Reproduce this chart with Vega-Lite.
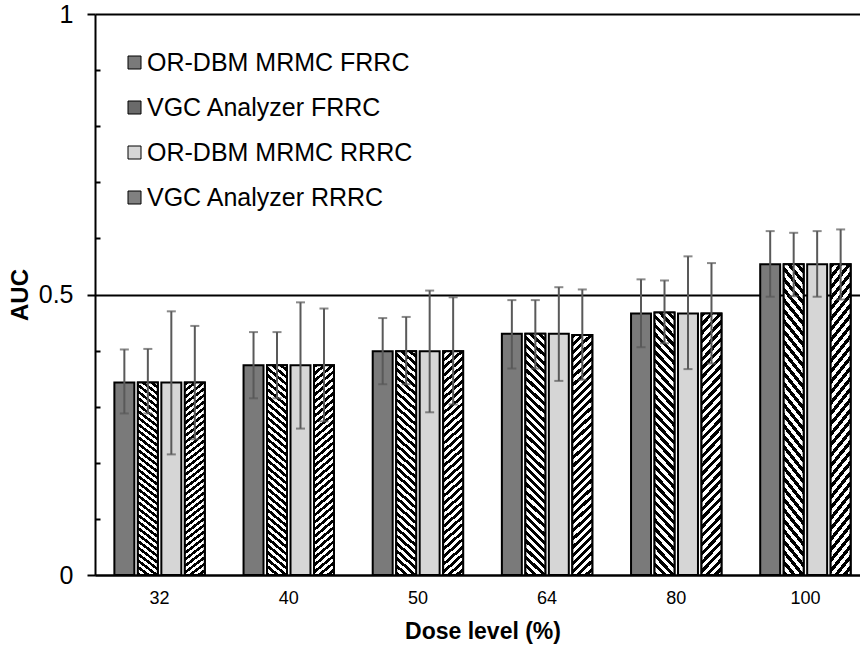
{
  "$schema": "https://vega.github.io/schema/vega-lite/v6.json",
  "width": 765,
  "height": 561,
  "autosize": {"type": "none"},
  "padding": {"left": 95, "top": 14, "right": 0, "bottom": 72},
  "background": "white",
  "config": {"view": {"stroke": null}, "font": "Liberation Sans"},
  "data": {
    "values": [
      {"dose": 32, "method": "OR-DBM MRMC FRRC", "auc": 0.343, "lo": 0.288, "hi": 0.402},
      {"dose": 32, "method": "VGC Analyzer FRRC", "auc": 0.343, "lo": 0.288, "hi": 0.403},
      {"dose": 32, "method": "OR-DBM MRMC RRRC", "auc": 0.343, "lo": 0.215, "hi": 0.470},
      {"dose": 32, "method": "VGC Analyzer RRRC", "auc": 0.343, "lo": 0.242, "hi": 0.444},
      {"dose": 40, "method": "OR-DBM MRMC FRRC", "auc": 0.374, "lo": 0.315, "hi": 0.433},
      {"dose": 40, "method": "VGC Analyzer FRRC", "auc": 0.374, "lo": 0.315, "hi": 0.433},
      {"dose": 40, "method": "OR-DBM MRMC RRRC", "auc": 0.374, "lo": 0.261, "hi": 0.486},
      {"dose": 40, "method": "VGC Analyzer RRRC", "auc": 0.374, "lo": 0.274, "hi": 0.475},
      {"dose": 50, "method": "OR-DBM MRMC FRRC", "auc": 0.399, "lo": 0.340, "hi": 0.458},
      {"dose": 50, "method": "VGC Analyzer FRRC", "auc": 0.399, "lo": 0.340, "hi": 0.460},
      {"dose": 50, "method": "OR-DBM MRMC RRRC", "auc": 0.399, "lo": 0.290, "hi": 0.507},
      {"dose": 50, "method": "VGC Analyzer RRRC", "auc": 0.399, "lo": 0.304, "hi": 0.495},
      {"dose": 64, "method": "OR-DBM MRMC FRRC", "auc": 0.430, "lo": 0.368, "hi": 0.490},
      {"dose": 64, "method": "VGC Analyzer FRRC", "auc": 0.430, "lo": 0.368, "hi": 0.490},
      {"dose": 64, "method": "OR-DBM MRMC RRRC", "auc": 0.430, "lo": 0.346, "hi": 0.513},
      {"dose": 64, "method": "VGC Analyzer RRRC", "auc": 0.428, "lo": 0.348, "hi": 0.509},
      {"dose": 80, "method": "OR-DBM MRMC FRRC", "auc": 0.466, "lo": 0.406, "hi": 0.527},
      {"dose": 80, "method": "VGC Analyzer FRRC", "auc": 0.468, "lo": 0.413, "hi": 0.525},
      {"dose": 80, "method": "OR-DBM MRMC RRRC", "auc": 0.466, "lo": 0.367, "hi": 0.568},
      {"dose": 80, "method": "VGC Analyzer RRRC", "auc": 0.466, "lo": 0.377, "hi": 0.556},
      {"dose": 100, "method": "OR-DBM MRMC FRRC", "auc": 0.554, "lo": 0.496, "hi": 0.613},
      {"dose": 100, "method": "VGC Analyzer FRRC", "auc": 0.554, "lo": 0.497, "hi": 0.610},
      {"dose": 100, "method": "OR-DBM MRMC RRRC", "auc": 0.554, "lo": 0.496, "hi": 0.613},
      {"dose": 100, "method": "VGC Analyzer RRRC", "auc": 0.554, "lo": 0.491, "hi": 0.616}
    ]
  },
  "encoding": {
    "x": {
      "field": "dose", "type": "nominal",
      "sort": [32, 40, 50, 64, 80, 100],
      "scale": {"range": [0, 775], "paddingInner": 0.3, "paddingOuter": 0.15},
      "title": "Dose level (%)",
      "axis": {
        "labelAngle": 0, "labelFontSize": 18, "labelColor": "black", "labelPadding": 14,
        "ticks": false, "domainColor": "black", "domainWidth": 2,
        "titleFontSize": 23, "titleFontWeight": "bold", "titleColor": "black", "titlePadding": 13
      }
    },
    "xOffset": {
      "field": "method", "type": "nominal",
      "sort": ["OR-DBM MRMC FRRC", "VGC Analyzer FRRC", "OR-DBM MRMC RRRC", "VGC Analyzer RRRC"],
      "scale": {"paddingInner": 0.15}
    }
  },
  "resolve": {"axis": {"y": "independent"}},
  "layer": [
    {
      "mark": {"type": "bar", "stroke": "black", "strokeWidth": 2},
      "encoding": {
        "y": {
          "field": "auc", "type": "quantitative",
          "scale": {"domain": [0, 1]},
          "title": "AUC",
          "axis": {
            "orient": "left", "values": [0, 0.5, 1], "labelExpr": "'' + datum.value",
            "labels": true, "domain": true,
            "labelFontSize": 25, "labelColor": "black", "labelPadding": 14,
            "tickSize": 8, "tickColor": "black", "tickWidth": 2,
            "domainColor": "black", "domainWidth": 2,
            "grid": true, "gridColor": "black", "gridWidth": 2, "gridOpacity": 1,
            "titleFontSize": 24, "titleFontWeight": "bold", "titleColor": "black", "titlePadding": 6
          }
        },
        "fill": {
          "field": "method", "type": "nominal",
          "scale": {
            "domain": ["OR-DBM MRMC FRRC", "VGC Analyzer FRRC", "OR-DBM MRMC RRRC", "VGC Analyzer RRRC"],
            "range": ["#7a7a7a", "#6a6a6a", "#d6d6d6", "#808080"]
          },
          "legend": {
            "orient": "none", "legendX": 27, "legendY": 36, "title": null, "padding": 0,
            "labelFontSize": 25, "labelColor": "black", "labelOffset": 0, "labelLimit": 600,
            "symbolType": "square", "symbolSize": 169, "symbolStrokeColor": "black",
            "symbolStrokeWidth": 1, "symbolOpacity": 1, "rowPadding": 19
          }
        }
      }
    },
    {
      "transform": [{"filter": "datum.method === 'VGC Analyzer FRRC'"}],
      "mark": {
        "type": "bar", "stroke": "black", "strokeWidth": 2,
        "fill": {
          "gradient": "linear", "x1": 0, "y1": 1, "x2": 0.0858, "y2": -0.0731,
          "stops": [
            {"offset": 0, "color": "#000"}, {"offset": 0.015625, "color": "#000"}, {"offset": 0.015625, "color": "#fff"}, {"offset": 0.03125, "color": "#fff"},
            {"offset": 0.03125, "color": "#000"}, {"offset": 0.046875, "color": "#000"}, {"offset": 0.046875, "color": "#fff"}, {"offset": 0.0625, "color": "#fff"},
            {"offset": 0.0625, "color": "#000"}, {"offset": 0.078125, "color": "#000"}, {"offset": 0.078125, "color": "#fff"}, {"offset": 0.09375, "color": "#fff"},
            {"offset": 0.09375, "color": "#000"}, {"offset": 0.109375, "color": "#000"}, {"offset": 0.109375, "color": "#fff"}, {"offset": 0.125, "color": "#fff"},
            {"offset": 0.125, "color": "#000"}, {"offset": 0.140625, "color": "#000"}, {"offset": 0.140625, "color": "#fff"}, {"offset": 0.15625, "color": "#fff"},
            {"offset": 0.15625, "color": "#000"}, {"offset": 0.171875, "color": "#000"}, {"offset": 0.171875, "color": "#fff"}, {"offset": 0.1875, "color": "#fff"},
            {"offset": 0.1875, "color": "#000"}, {"offset": 0.203125, "color": "#000"}, {"offset": 0.203125, "color": "#fff"}, {"offset": 0.21875, "color": "#fff"},
            {"offset": 0.21875, "color": "#000"}, {"offset": 0.234375, "color": "#000"}, {"offset": 0.234375, "color": "#fff"}, {"offset": 0.25, "color": "#fff"},
            {"offset": 0.25, "color": "#000"}, {"offset": 0.265625, "color": "#000"}, {"offset": 0.265625, "color": "#fff"}, {"offset": 0.28125, "color": "#fff"},
            {"offset": 0.28125, "color": "#000"}, {"offset": 0.296875, "color": "#000"}, {"offset": 0.296875, "color": "#fff"}, {"offset": 0.3125, "color": "#fff"},
            {"offset": 0.3125, "color": "#000"}, {"offset": 0.328125, "color": "#000"}, {"offset": 0.328125, "color": "#fff"}, {"offset": 0.34375, "color": "#fff"},
            {"offset": 0.34375, "color": "#000"}, {"offset": 0.359375, "color": "#000"}, {"offset": 0.359375, "color": "#fff"}, {"offset": 0.375, "color": "#fff"},
            {"offset": 0.375, "color": "#000"}, {"offset": 0.390625, "color": "#000"}, {"offset": 0.390625, "color": "#fff"}, {"offset": 0.40625, "color": "#fff"},
            {"offset": 0.40625, "color": "#000"}, {"offset": 0.421875, "color": "#000"}, {"offset": 0.421875, "color": "#fff"}, {"offset": 0.4375, "color": "#fff"},
            {"offset": 0.4375, "color": "#000"}, {"offset": 0.453125, "color": "#000"}, {"offset": 0.453125, "color": "#fff"}, {"offset": 0.46875, "color": "#fff"},
            {"offset": 0.46875, "color": "#000"}, {"offset": 0.484375, "color": "#000"}, {"offset": 0.484375, "color": "#fff"}, {"offset": 0.5, "color": "#fff"},
            {"offset": 0.5, "color": "#000"}, {"offset": 0.515625, "color": "#000"}, {"offset": 0.515625, "color": "#fff"}, {"offset": 0.53125, "color": "#fff"},
            {"offset": 0.53125, "color": "#000"}, {"offset": 0.546875, "color": "#000"}, {"offset": 0.546875, "color": "#fff"}, {"offset": 0.5625, "color": "#fff"},
            {"offset": 0.5625, "color": "#000"}, {"offset": 0.578125, "color": "#000"}, {"offset": 0.578125, "color": "#fff"}, {"offset": 0.59375, "color": "#fff"},
            {"offset": 0.59375, "color": "#000"}, {"offset": 0.609375, "color": "#000"}, {"offset": 0.609375, "color": "#fff"}, {"offset": 0.625, "color": "#fff"},
            {"offset": 0.625, "color": "#000"}, {"offset": 0.640625, "color": "#000"}, {"offset": 0.640625, "color": "#fff"}, {"offset": 0.65625, "color": "#fff"},
            {"offset": 0.65625, "color": "#000"}, {"offset": 0.671875, "color": "#000"}, {"offset": 0.671875, "color": "#fff"}, {"offset": 0.6875, "color": "#fff"},
            {"offset": 0.6875, "color": "#000"}, {"offset": 0.703125, "color": "#000"}, {"offset": 0.703125, "color": "#fff"}, {"offset": 0.71875, "color": "#fff"},
            {"offset": 0.71875, "color": "#000"}, {"offset": 0.734375, "color": "#000"}, {"offset": 0.734375, "color": "#fff"}, {"offset": 0.75, "color": "#fff"},
            {"offset": 0.75, "color": "#000"}, {"offset": 0.765625, "color": "#000"}, {"offset": 0.765625, "color": "#fff"}, {"offset": 0.78125, "color": "#fff"},
            {"offset": 0.78125, "color": "#000"}, {"offset": 0.796875, "color": "#000"}, {"offset": 0.796875, "color": "#fff"}, {"offset": 0.8125, "color": "#fff"},
            {"offset": 0.8125, "color": "#000"}, {"offset": 0.828125, "color": "#000"}, {"offset": 0.828125, "color": "#fff"}, {"offset": 0.84375, "color": "#fff"},
            {"offset": 0.84375, "color": "#000"}, {"offset": 0.859375, "color": "#000"}, {"offset": 0.859375, "color": "#fff"}, {"offset": 0.875, "color": "#fff"},
            {"offset": 0.875, "color": "#000"}, {"offset": 0.890625, "color": "#000"}, {"offset": 0.890625, "color": "#fff"}, {"offset": 0.90625, "color": "#fff"},
            {"offset": 0.90625, "color": "#000"}, {"offset": 0.921875, "color": "#000"}, {"offset": 0.921875, "color": "#fff"}, {"offset": 0.9375, "color": "#fff"},
            {"offset": 0.9375, "color": "#000"}, {"offset": 0.953125, "color": "#000"}, {"offset": 0.953125, "color": "#fff"}, {"offset": 0.96875, "color": "#fff"},
            {"offset": 0.96875, "color": "#000"}, {"offset": 0.984375, "color": "#000"}, {"offset": 0.984375, "color": "#fff"}, {"offset": 1, "color": "#fff"}
          ]
        }
      },
      "encoding": {"y": {"field": "auc", "type": "quantitative", "axis": null}}
    },
    {
      "transform": [{"filter": "datum.method === 'VGC Analyzer RRRC'"}],
      "mark": {
        "type": "bar", "stroke": "black", "strokeWidth": 2,
        "fill": {
          "gradient": "linear", "x1": 0, "y1": 0, "x2": 0.0858, "y2": 1.0731,
          "stops": [
            {"offset": 0, "color": "#000"}, {"offset": 0.015625, "color": "#000"}, {"offset": 0.015625, "color": "#fff"}, {"offset": 0.03125, "color": "#fff"},
            {"offset": 0.03125, "color": "#000"}, {"offset": 0.046875, "color": "#000"}, {"offset": 0.046875, "color": "#fff"}, {"offset": 0.0625, "color": "#fff"},
            {"offset": 0.0625, "color": "#000"}, {"offset": 0.078125, "color": "#000"}, {"offset": 0.078125, "color": "#fff"}, {"offset": 0.09375, "color": "#fff"},
            {"offset": 0.09375, "color": "#000"}, {"offset": 0.109375, "color": "#000"}, {"offset": 0.109375, "color": "#fff"}, {"offset": 0.125, "color": "#fff"},
            {"offset": 0.125, "color": "#000"}, {"offset": 0.140625, "color": "#000"}, {"offset": 0.140625, "color": "#fff"}, {"offset": 0.15625, "color": "#fff"},
            {"offset": 0.15625, "color": "#000"}, {"offset": 0.171875, "color": "#000"}, {"offset": 0.171875, "color": "#fff"}, {"offset": 0.1875, "color": "#fff"},
            {"offset": 0.1875, "color": "#000"}, {"offset": 0.203125, "color": "#000"}, {"offset": 0.203125, "color": "#fff"}, {"offset": 0.21875, "color": "#fff"},
            {"offset": 0.21875, "color": "#000"}, {"offset": 0.234375, "color": "#000"}, {"offset": 0.234375, "color": "#fff"}, {"offset": 0.25, "color": "#fff"},
            {"offset": 0.25, "color": "#000"}, {"offset": 0.265625, "color": "#000"}, {"offset": 0.265625, "color": "#fff"}, {"offset": 0.28125, "color": "#fff"},
            {"offset": 0.28125, "color": "#000"}, {"offset": 0.296875, "color": "#000"}, {"offset": 0.296875, "color": "#fff"}, {"offset": 0.3125, "color": "#fff"},
            {"offset": 0.3125, "color": "#000"}, {"offset": 0.328125, "color": "#000"}, {"offset": 0.328125, "color": "#fff"}, {"offset": 0.34375, "color": "#fff"},
            {"offset": 0.34375, "color": "#000"}, {"offset": 0.359375, "color": "#000"}, {"offset": 0.359375, "color": "#fff"}, {"offset": 0.375, "color": "#fff"},
            {"offset": 0.375, "color": "#000"}, {"offset": 0.390625, "color": "#000"}, {"offset": 0.390625, "color": "#fff"}, {"offset": 0.40625, "color": "#fff"},
            {"offset": 0.40625, "color": "#000"}, {"offset": 0.421875, "color": "#000"}, {"offset": 0.421875, "color": "#fff"}, {"offset": 0.4375, "color": "#fff"},
            {"offset": 0.4375, "color": "#000"}, {"offset": 0.453125, "color": "#000"}, {"offset": 0.453125, "color": "#fff"}, {"offset": 0.46875, "color": "#fff"},
            {"offset": 0.46875, "color": "#000"}, {"offset": 0.484375, "color": "#000"}, {"offset": 0.484375, "color": "#fff"}, {"offset": 0.5, "color": "#fff"},
            {"offset": 0.5, "color": "#000"}, {"offset": 0.515625, "color": "#000"}, {"offset": 0.515625, "color": "#fff"}, {"offset": 0.53125, "color": "#fff"},
            {"offset": 0.53125, "color": "#000"}, {"offset": 0.546875, "color": "#000"}, {"offset": 0.546875, "color": "#fff"}, {"offset": 0.5625, "color": "#fff"},
            {"offset": 0.5625, "color": "#000"}, {"offset": 0.578125, "color": "#000"}, {"offset": 0.578125, "color": "#fff"}, {"offset": 0.59375, "color": "#fff"},
            {"offset": 0.59375, "color": "#000"}, {"offset": 0.609375, "color": "#000"}, {"offset": 0.609375, "color": "#fff"}, {"offset": 0.625, "color": "#fff"},
            {"offset": 0.625, "color": "#000"}, {"offset": 0.640625, "color": "#000"}, {"offset": 0.640625, "color": "#fff"}, {"offset": 0.65625, "color": "#fff"},
            {"offset": 0.65625, "color": "#000"}, {"offset": 0.671875, "color": "#000"}, {"offset": 0.671875, "color": "#fff"}, {"offset": 0.6875, "color": "#fff"},
            {"offset": 0.6875, "color": "#000"}, {"offset": 0.703125, "color": "#000"}, {"offset": 0.703125, "color": "#fff"}, {"offset": 0.71875, "color": "#fff"},
            {"offset": 0.71875, "color": "#000"}, {"offset": 0.734375, "color": "#000"}, {"offset": 0.734375, "color": "#fff"}, {"offset": 0.75, "color": "#fff"},
            {"offset": 0.75, "color": "#000"}, {"offset": 0.765625, "color": "#000"}, {"offset": 0.765625, "color": "#fff"}, {"offset": 0.78125, "color": "#fff"},
            {"offset": 0.78125, "color": "#000"}, {"offset": 0.796875, "color": "#000"}, {"offset": 0.796875, "color": "#fff"}, {"offset": 0.8125, "color": "#fff"},
            {"offset": 0.8125, "color": "#000"}, {"offset": 0.828125, "color": "#000"}, {"offset": 0.828125, "color": "#fff"}, {"offset": 0.84375, "color": "#fff"},
            {"offset": 0.84375, "color": "#000"}, {"offset": 0.859375, "color": "#000"}, {"offset": 0.859375, "color": "#fff"}, {"offset": 0.875, "color": "#fff"},
            {"offset": 0.875, "color": "#000"}, {"offset": 0.890625, "color": "#000"}, {"offset": 0.890625, "color": "#fff"}, {"offset": 0.90625, "color": "#fff"},
            {"offset": 0.90625, "color": "#000"}, {"offset": 0.921875, "color": "#000"}, {"offset": 0.921875, "color": "#fff"}, {"offset": 0.9375, "color": "#fff"},
            {"offset": 0.9375, "color": "#000"}, {"offset": 0.953125, "color": "#000"}, {"offset": 0.953125, "color": "#fff"}, {"offset": 0.96875, "color": "#fff"},
            {"offset": 0.96875, "color": "#000"}, {"offset": 0.984375, "color": "#000"}, {"offset": 0.984375, "color": "#fff"}, {"offset": 1, "color": "#fff"}
          ]
        }
      },
      "encoding": {"y": {"field": "auc", "type": "quantitative", "axis": null}}
    },
    {
      "mark": {"type": "rule", "color": "#595959", "strokeWidth": 2},
      "encoding": {
        "y": {
          "field": "lo", "type": "quantitative",
          "axis": {
            "orient": "left", "values": [0.1, 0.2, 0.3, 0.4, 0.6, 0.7, 0.8, 0.9],
            "labels": false, "domain": false, "grid": false, "title": null,
            "tickSize": -5, "tickColor": "black", "tickWidth": 2
          }
        },
        "y2": {"field": "hi"}
      }
    },
    {
      "mark": {"type": "tick", "color": "#595959", "thickness": 2, "size": 9, "orient": "horizontal"},
      "encoding": {"y": {"field": "hi", "type": "quantitative", "axis": null}}
    },
    {
      "mark": {"type": "tick", "color": "#595959", "thickness": 2, "size": 9, "orient": "horizontal"},
      "encoding": {"y": {"field": "lo", "type": "quantitative", "axis": null}}
    }
  ]
}
